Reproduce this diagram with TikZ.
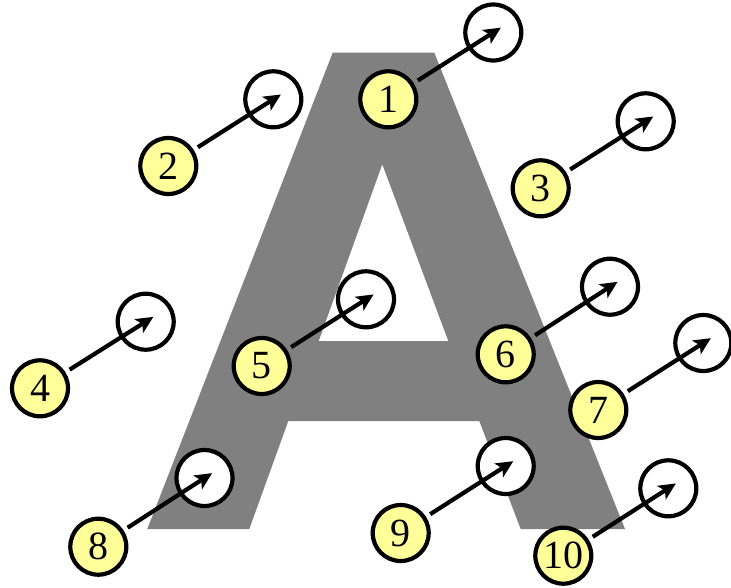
\documentclass[tikz,border=0pt]{standalone}
\usepackage{fontspec}
\setmainfont{Liberation Serif}
\usetikzlibrary{arrows.meta}
\definecolor{paleyellow}{RGB}{255,255,153}
\definecolor{glyphgray}{RGB}{128,128,128}
\tikzset{
  num/.style={circle, draw=black, line width=4.2pt, fill=paleyellow,
    minimum size=56pt, inner sep=0pt, font=\fontsize{40}{40}\selectfont},
  target/.style={circle, draw=black, line width=4.2pt, fill=white,
    minimum size=56pt, inner sep=0pt},
  pointer/.style={line width=4.2pt,
    -{Stealth[length=17pt, width=16pt, inset=4pt]},
    shorten <=35pt, shorten >=-9pt}
}
\begin{document}
\begin{tikzpicture}[x=1pt, y=-1pt]
\useasboundingbox (0,0) rectangle (731,587);
% the big letter A with its counter cut out
\fill[glyphgray, even odd rule]
  (147.3,529) -- (249.3,529) -- (288.3,421) -- (479.3,421) -- (520.7,529)
  -- (625,529) -- (434.3,52.7) -- (332.7,52.7) -- cycle
  (318.7,341) -- (448.3,341) -- (382.3,164.3) -- cycle;
% target circles
\node[target] (e1)  at (493.3,32.5) {};
\node[target] (e2)  at (273.3,99.3) {};
\node[target] (e3)  at (645.7,121.3) {};
\node[target] (e4)  at (145.7,321.7) {};
\node[target] (e5)  at (366,299.3) {};
\node[target] (e6)  at (610,286.7) {};
\node[target] (e7)  at (703.3,343) {};
\node[target] (e8)  at (204.5,478) {};
\node[target] (e9)  at (505.7,466) {};
\node[target] (e10) at (668.3,488.3) {};
% numbered circles
\node[num] (n1)  at (388.3,99.3) {1};
\node[num] (n2)  at (168.3,166) {2};
\node[num] (n3)  at (540.7,188.3) {3};
\node[num] (n4)  at (40,388.3) {4};
\node[num] (n5)  at (261.7,366) {5};
\node[num] (n6)  at (505.7,354.3) {6};
\node[num] (n7)  at (598.3,410) {7};
\node[num] (n8)  at (98.3,546.7) {8};
\node[num] (n9)  at (400.7,533) {9};
\node[num] (n10) at (563.3,555.7) {10};
% pointers
\foreach \i in {1,...,10}
  \draw[pointer] (n\i.center) -- (e\i.center);
\end{tikzpicture}
\end{document}
